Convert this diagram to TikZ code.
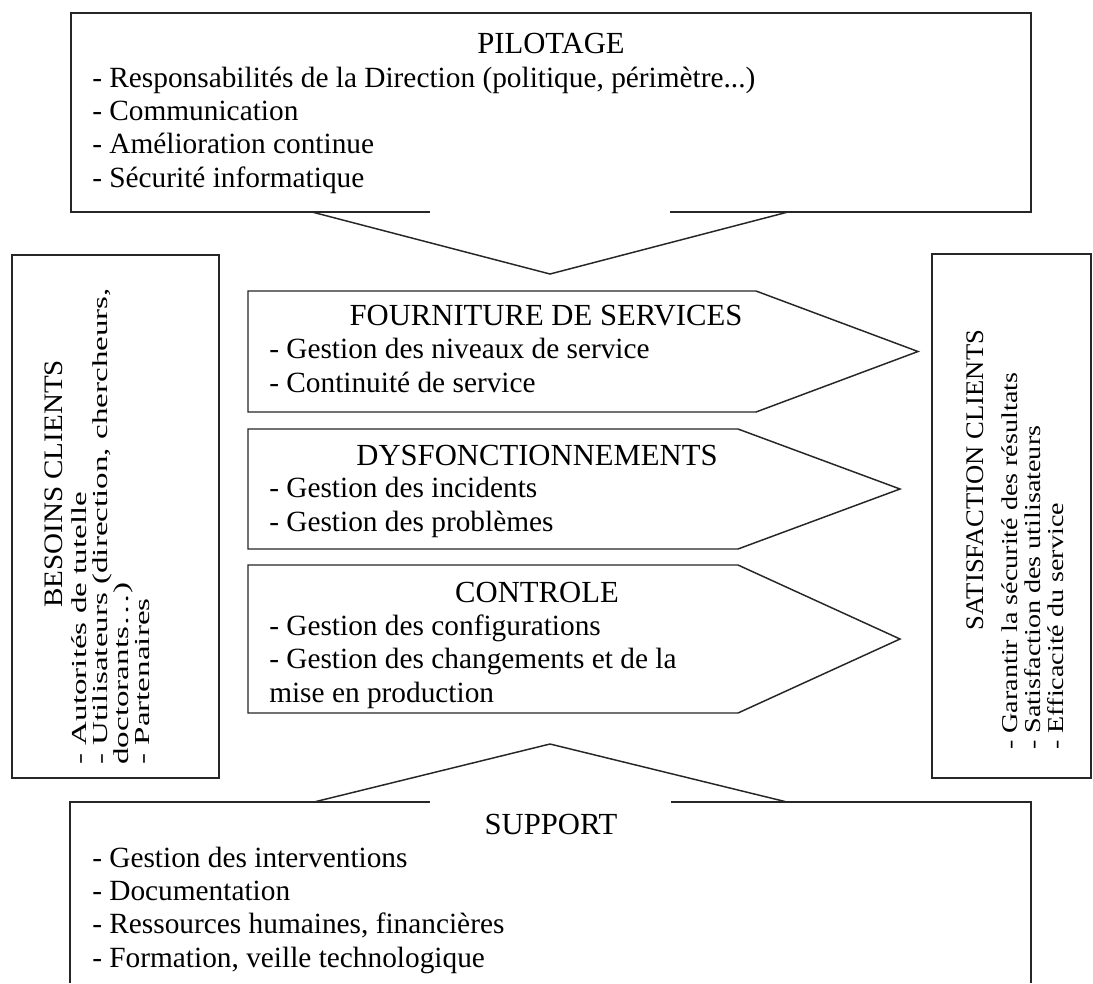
\documentclass[tikz,border=0pt]{standalone}
\usepackage{fontspec}
\setmainfont{Liberation Serif}
\usetikzlibrary{positioning}

\tikzset{
  outline/.style={draw=black!85, line width=1.1pt, line join=miter, fill=white},
  edgeline/.style={draw=black!85, line width=1.1pt},
  headtxt/.style={inner sep=0pt, anchor=base, font=\fontsize{23}{25}\selectfont},
  % anchor base of a multi-line node sits on its last line
  listtxt/.style={inner sep=0pt, anchor=base west, align=left, font=\fontsize{22}{25}\selectfont},
  lefthead/.style={inner sep=0pt, anchor=base, rotate=90, xscale=1.09, font=\fontsize{20}{24}\selectfont},
  leftlist/.style={inner sep=0pt, anchor=base west, align=left, rotate=90, xscale=1.55, font=\fontsize{16}{15.75}\selectfont},
  righthead/.style={inner sep=0pt, anchor=base, rotate=90, xscale=1.05, font=\fontsize{19}{23}\selectfont},
  rightlist/.style={inner sep=0pt, anchor=base west, align=left, rotate=90, xscale=1.24, font=\fontsize{17}{17.25}\selectfont}
}

\begin{document}
\begin{tikzpicture}[x=0.75pt,y=-0.75pt]
  \useasboundingbox (0,0) rectangle (1093,983);
  \fill[white] (0,0) rectangle (1093,983);

  % pilotage box with its notch
  \coordinate (pl) at (71,13);
  \coordinate (pr) at (1031,212);
  \draw[edgeline] (430,212) -- (71,212) -- (pl) -- (1031,13) -- (pr) -- (670,212);
  \draw[edgeline] (312,212) -- (550,274) -- (788,212);
  \node[headtxt] at (551,53) (pilotitle) {PILOTAGE};
  \node[listtxt] at (92,187) (pilolist) {- Responsabilités de la Direction (politique, périmètre...)\\- Communication\\- Amélioration continue\\- Sécurité informatique};

  % side boxes
  \draw[outline] (12,255) rectangle (219,778);
  \node[lefthead] at (62,484) (besoinstitle) {BESOINS CLIENTS};
  \node[leftlist] at (149,765) (besoinslist) {- Autorités de tutelle\\- Utilisateurs (direction, chercheurs,\\doctorants…)\\- Partenaires};

  \draw[outline] (932,254) rectangle (1091,778);
  \node[righthead] at (983,480) (satistitle) {SATISFACTION CLIENTS};
  \node[rightlist] at (1063,750) (satislist) {- Garantir la sécurité des résultats\\- Satisfaction des utilisateurs\\- Efficacité du service};

  % the three processes
  \draw[outline] (248,291) -- (756,291) -- (918,351.5) -- (756,412) -- (248,412) -- cycle;
  \node[headtxt] at (546,325) (fourntitle) {FOURNITURE DE SERVICES};
  \node[listtxt] at (269,392) (fournlist) {- Gestion des niveaux de service\\- Continuité de service};

  \draw[outline] (248,429) -- (738,429) -- (900,489) -- (738,549) -- (248,549) -- cycle;
  \node[headtxt] at (537,465) (dysftitle) {DYSFONCTIONNEMENTS};
  \node[listtxt] at (269,531) (dysflist) {- Gestion des incidents\\- Gestion des problèmes};

  \draw[outline] (248,565) -- (738,565) -- (900,639) -- (738,713) -- (248,713) -- cycle;
  \node[headtxt] at (537,602) (ctrltitle) {CONTROLE};
  \node[listtxt] at (269,702) (ctrllist) {- Gestion des configurations\\- Gestion des changements et de la\\mise en production};

  % support box with its notch
  \coordinate (sl) at (70,983);
  \coordinate (sr) at (1031,983);
  \draw[edgeline] (430,802) -- (70,802) -- (sl);
  \draw[edgeline] (671,802) -- (1031,802) -- (sr);
  \draw[edgeline] (314,802) -- (550,744) -- (787,802);
  \node[headtxt] at (551,834) (supptitle) {SUPPORT};
  \node[listtxt] at (92,967) (supplist) {- Gestion des interventions\\- Documentation\\- Ressources humaines, financières\\- Formation, veille technologique};
\end{tikzpicture}
\end{document}
